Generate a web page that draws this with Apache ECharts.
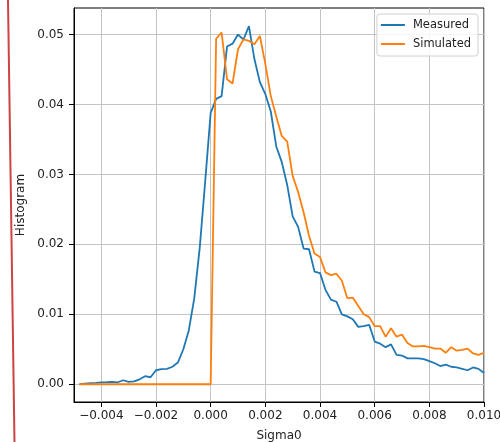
<!DOCTYPE html>
<html>
<head>
<meta charset="utf-8">
<script src="https://cdn.jsdelivr.net/npm/echarts@6/dist/echarts.min.js"></script>
<style>html,body{margin:0;padding:0;background:#fff}#c{width:500px;height:442px}</style>
</head>
<body>
<div id="c"></div>
<script>
// bins: centres at j * binWidth, j = -24 .. 50
const binStartIndex = -24;
const binWidth = 0.0002;
// values in units of 1e-3
const measured = [
  0.0, 0.1, 0.15, 0.2, 0.28, 0.3, 0.33, 0.28, 0.57, 0.35,
  0.4, 0.7, 1.15, 1.0, 2.0, 2.15, 2.2, 2.5, 3.1, 5.0,
  7.7, 12.3, 19.5, 29.0, 38.8, 40.8, 41.2, 48.3, 48.7, 50.0,
  49.3, 51.2, 46.5, 43.2, 41.5, 39.0, 34.0, 31.8, 28.5, 24.0,
  22.5, 19.4, 19.3, 16.1, 15.9, 13.5, 12.1, 11.8, 10.0, 9.7,
  9.3, 8.2, 8.3, 8.5, 6.1, 5.8, 5.3, 5.7, 4.2, 4.1,
  3.7, 3.7, 3.7, 3.6, 3.3, 3.0, 2.6, 2.8, 2.5, 2.4,
  2.2, 2.0, 2.4, 2.2, 1.6
];
const simulated = [
  0, 0, 0, 0, 0, 0, 0, 0, 0, 0,
  0, 0, 0, 0, 0, 0, 0, 0, 0, 0,
  0, 0, 0, 0, 0, 49.4, 50.3, 43.6, 43.0, 47.9,
  49.3, 49.1, 48.6, 49.8, 45.8, 41.2, 38.3, 35.5, 34.7, 29.8,
  27.5, 24.6, 21.2, 18.7, 18.2, 16.0, 15.6, 15.8, 14.8, 12.3,
  12.4, 11.2, 10.0, 9.6, 8.3, 8.3, 6.8, 8.0, 6.8, 7.1,
  5.9, 5.4, 5.4, 5.5, 5.3, 5.1, 5.1, 4.5, 5.3, 4.8,
  4.9, 5.1, 4.4, 4.2, 4.5
];
const xTicks = [-0.004, -0.002, 0, 0.002, 0.004, 0.006, 0.008, 0.010];
const yTicks = [0, 0.01, 0.02, 0.03, 0.04, 0.05];
const seriesNames = ['Measured', 'Simulated'];
const colors = ['#1f77b4', '#ff7f0e'];

function toPairs(vals) {
  return vals.map((v, i) => [(binStartIndex + i) * binWidth, v / 1000]);
}
function fmt(v, d) {
  const s = Math.abs(v).toFixed(d);
  return (v < -1e-12 ? '\u2212' : '') + s;
}

const chart = echarts.init(document.getElementById('c'), null, {renderer: 'canvas'});
const font = 'DejaVu Sans';
const lineIcon = 'path://M0,0 L24,0 L24,2 L0,2 Z';
chart.setOption({
  animation: false,
  backgroundColor: '#fff',
  textStyle: {fontFamily: font},
  grid: {left: 74, right: 16, top: 8, bottom: 40, show: true, borderColor: '#000', borderWidth: 1, backgroundColor: 'transparent', containLabel: false, outerBoundsMode: 'none'},
  legend: {
    right: 22, top: 14, orient: 'vertical',
    backgroundColor: 'rgba(255,255,255,0.85)', borderColor: '#d0d0d0', borderWidth: 1, borderRadius: 3,
    padding: [5, 7, 6, 4], itemWidth: 24, itemHeight: 11, itemGap: 7,
    textStyle: {fontFamily: font, fontSize: 11.5, color: '#222', padding: [0, 0, 0, 3]},
    data: seriesNames.map(n => ({name: n, icon: lineIcon}))
  },
  xAxis: {
    type: 'value', min: -0.005, max: 0.010,
    name: 'Sigma0', nameLocation: 'middle', nameGap: 28,
    nameTextStyle: {fontFamily: font, fontSize: 12, color: '#222'},
    axisLine: {show: true, onZero: false, lineStyle: {color: '#000', width: 1}},
    axisTick: {show: true, length: 5, lineStyle: {color: '#000', width: 1}, customValues: xTicks},
    axisLabel: {margin: 8, fontFamily: font, fontSize: 12, color: '#222', customValues: xTicks, formatter: v => fmt(v, 3)},
    splitLine: {show: true, lineStyle: {color: '#c4c4c4', width: 1}}
  },
  yAxis: {
    type: 'value', min: -0.00254, max: 0.0538,
    name: 'Histogram', nameLocation: 'middle', nameGap: 42, nameRotate: 90,
    nameTextStyle: {fontFamily: font, fontSize: 12, color: '#222'},
    axisLine: {show: true, onZero: false, lineStyle: {color: '#000', width: 1}},
    axisTick: {show: true, length: 5, lineStyle: {color: '#000', width: 1}, customValues: yTicks},
    axisLabel: {margin: 10, fontFamily: font, fontSize: 12, color: '#222', customValues: yTicks, formatter: v => fmt(v, 2)},
    splitLine: {show: true, lineStyle: {color: '#c4c4c4', width: 1}}
  },
  series: [
    {name: seriesNames[0], type: 'line', data: toPairs(measured), symbol: 'none', color: colors[0], lineStyle: {width: 1.8, color: colors[0]}, clip: true},
    {name: seriesNames[1], type: 'line', data: toPairs(simulated), symbol: 'none', color: colors[1], lineStyle: {width: 1.8, color: colors[1]}, clip: true}
  ],
  graphic: [
    {type: 'line', shape: {x1: 8, y1: 0, x2: 14.5, y2: 442}, style: {stroke: '#cc4444', lineWidth: 2}, silent: true}
  ]
});
</script>
</body>
</html>
